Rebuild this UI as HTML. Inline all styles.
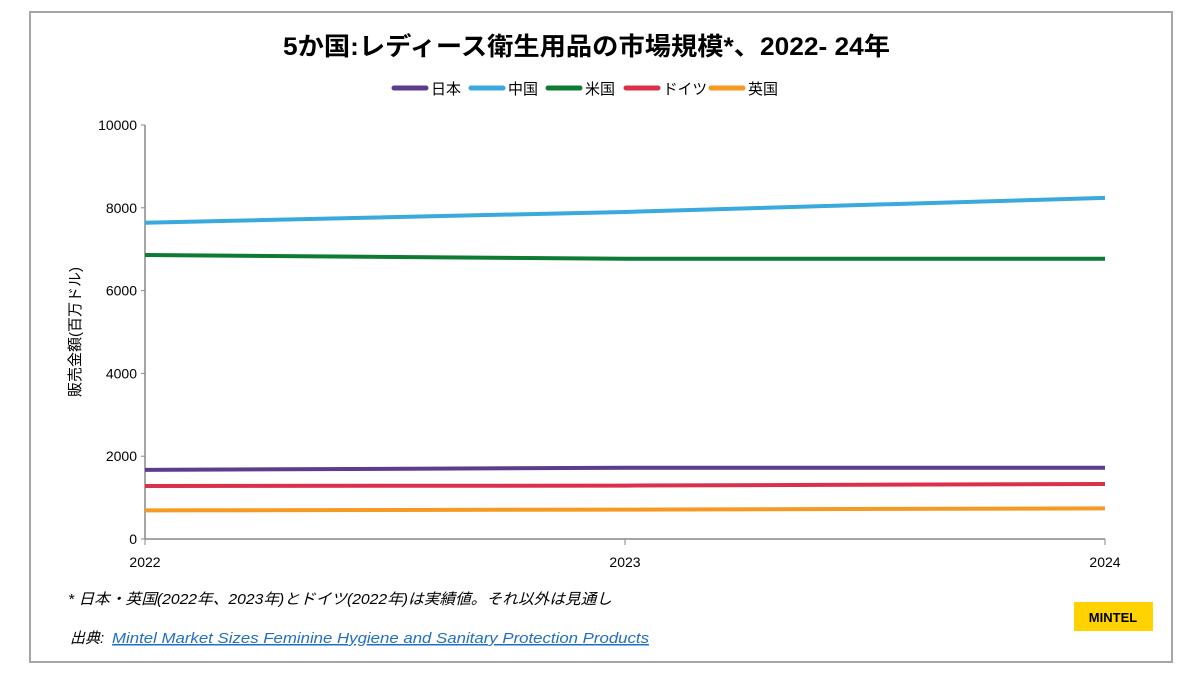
<!DOCTYPE html>
<html><head><meta charset="utf-8"><style>
body{margin:0;background:#fff;font-family:"Liberation Sans","Noto Sans CJK JP",sans-serif}
svg text{font-family:"Liberation Sans","Noto Sans CJK JP",sans-serif}
</style></head><body>
<svg id="c" width="1200" height="675" xmlns="http://www.w3.org/2000/svg">
<rect x="30" y="12" width="1142" height="650" fill="#fff" stroke="#a6a6a6" stroke-width="2"/>
<text x="283" y="55" textLength="607" lengthAdjust="spacingAndGlyphs" font-size="25" font-weight="bold" fill="#000">5か国:レディース衛生用品の市場規模*、2022- 24年</text>
<g id="legend"></g>
<g id="axes"></g>
<g id="lines"></g>
<text transform="translate(80,332) rotate(-90)" text-anchor="middle" font-size="15" fill="#000">販売金額(百万ドル)</text>
<text x="68" y="604" textLength="544" lengthAdjust="spacingAndGlyphs" font-size="15" font-style="italic" fill="#000">* 日本・英国(2022年、2023年)とドイツ(2022年)は実績値。それ以外は見通し</text>
<text x="70" y="643" font-size="15" font-style="italic" fill="#000">出典:</text>
<text x="112" y="643" textLength="537" lengthAdjust="spacingAndGlyphs" font-size="15" font-style="italic" fill="#1f6fc5" text-decoration="underline">Mintel Market Sizes Feminine Hygiene and Sanitary Protection Products</text>
<rect x="1074" y="602" width="79" height="29" fill="#ffd200"/>
<text x="1113" y="622" text-anchor="middle" font-size="13" font-weight="bold" fill="#000">MINTEL</text>
</svg>
<script>
const years=["2022","2023","2024"];
const yTicks=[0,2000,4000,6000,8000,10000];
const seriesNames=["日本","中国","米国","ドイツ","英国"];
const japan=[1670,1720,1720];
const china=[7640,7900,8240];
const usa=[6860,6770,6770];
const germany=[1280,1290,1330];
const uk=[690,710,740];
const colors=["#5c3c8c","#3aa9dd","#0e7b34","#dc304a","#f59a23"];
const allSeries=[japan,china,usa,germany,uk];
const ns="http://www.w3.org/2000/svg";
const x0=145,x1=1105,yb=539,yt=125,yMax=10000;
const xs=i=>x0+(x1-x0)*i/(years.length-1);
const ys=v=>yb-(yb-yt)*v/yMax;
function mk(t,a,p){const e=document.createElementNS(ns,t);for(const k in a)e.setAttribute(k,a[k]);p.appendChild(e);return e;}
const ax=document.getElementById('axes');
let l=mk('line',{x1:x0,y1:yt,x2:x0,y2:yb,stroke:'#888','stroke-width':1.5},ax);


l=mk('line',{x1:x0,y1:yb,x2:x1,y2:yb,stroke:'#888','stroke-width':1.5},ax);


yTicks.forEach(v=>{
 mk('line',{x1:x0-4,y1:ys(v),x2:x0,y2:ys(v),stroke:'#888'},ax);
 const t=mk('text',{x:x0-8,y:ys(v)+5,'text-anchor':'end','font-size':14,fill:'#000'},ax);
 t.textContent=v;
 
 
});
years.forEach((y,i)=>{
 mk('line',{x1:xs(i),y1:yb,x2:xs(i),y2:yb+6,stroke:'#888'},ax);
 const t=mk('text',{x:xs(i),y:yb+28,'text-anchor':'middle','font-size':14,fill:'#000'},ax);
 t.textContent=y;
 
 
});
const lg=document.getElementById('lines');
allSeries.forEach((s,k)=>{
 const p=mk('polyline',{points:s.map((v,i)=>xs(i)+','+ys(v)).join(' '),fill:'none',stroke:colors[k],'stroke-width':4},lg);
 
 
});
const leg=document.getElementById('legend');
const lx=[394,471,548,626,711];
const lw=[30,30,30,44,30];
seriesNames.forEach((n,k)=>{
 const g=mk('g',{},leg);
 
 
 mk('line',{x1:lx[k],y1:88,x2:lx[k]+32,y2:88,stroke:colors[k],'stroke-width':5,'stroke-linecap':'round'},g);
 const t=mk('text',{x:lx[k]+37,y:94,'font-size':15,fill:'#000',textLength:lw[k],lengthAdjust:'spacingAndGlyphs'},g);
 t.textContent=n;
});
</script>
</body></html>
